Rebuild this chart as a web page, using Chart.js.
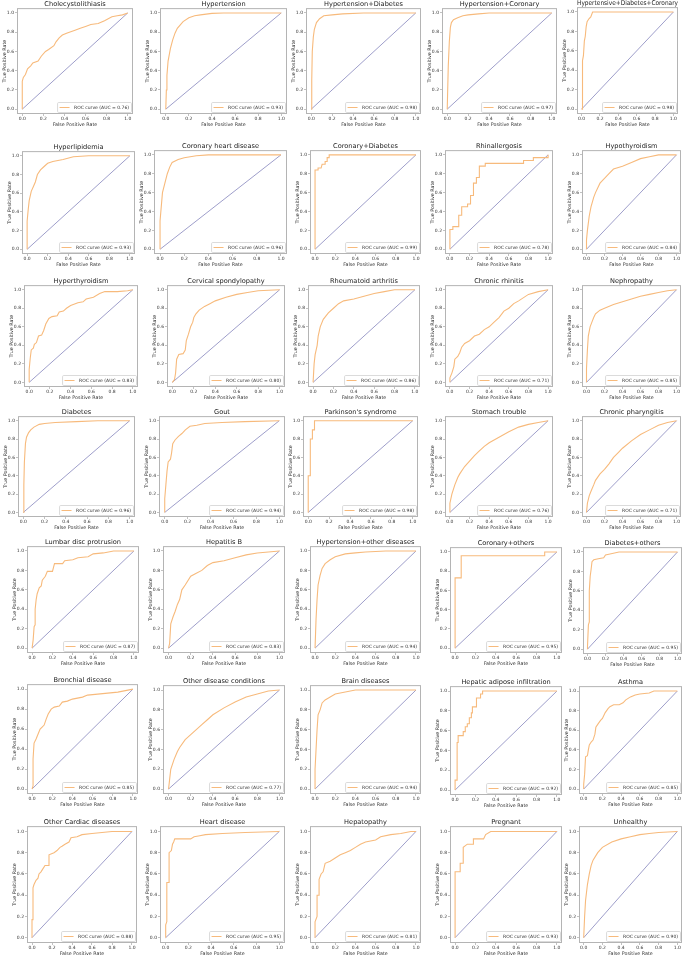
<!DOCTYPE html>
<html>
<head>
<meta charset="utf-8">
<script src="https://cdn.jsdelivr.net/npm/chart.js@4/dist/chart.umd.min.js"></script>
<style>
html, body { margin: 0; padding: 0; background: #ffffff; }
#fig { position: relative; width: 685px; height: 955px; overflow: hidden; background: #ffffff; }
#fig canvas { position: absolute; }
</style>
</head>
<body>
<div id="fig"></div>
<script>
// ---------------- DATA ----------------
const panelTitles = [
  'Cholecystolithiasis', 'Hypertension', 'Hypertension+Diabetes', 'Hypertension+Coronary', 'Hypertensive+Diabetes+Coronary',
  'Hyperlipidemia', 'Coronary heart disease', 'Coronary+Diabetes', 'Rhinallergosis', 'Hypothyroidism',
  'Hyperthyroidism', 'Cervical spondylopathy', 'Rheumatoid arthritis', 'Chronic rhinitis', 'Nephropathy',
  'Diabetes', 'Gout', "Parkinson's syndrome", 'Stomach trouble', 'Chronic pharyngitis',
  'Lumbar disc protrusion', 'Hepatitis B', 'Hypertension+other diseases', 'Coronary+others', 'Diabetes+others',
  'Bronchial disease', 'Other disease conditions', 'Brain diseases', 'Hepatic adipose infiltration', 'Asthma',
  'Other Cardiac diseases', 'Heart disease', 'Hepatopathy', 'Pregnant', 'Unhealthy'
];
const aucValues = [
  '0.76', '0.93', '0.98', '0.97', '0.98',
  '0.93', '0.96', '0.99', '0.78', '0.84',
  '0.83', '0.80', '0.86', '0.71', '0.85',
  '0.96', '0.94', '0.98', '0.76', '0.71',
  '0.87', '0.83', '0.94', '0.95', '0.95',
  '0.85', '0.77', '0.94', '0.92', '0.85',
  '0.88', '0.95', '0.81', '0.93', '0.90'
];
const tickValues = [0, 0.2, 0.4, 0.6, 0.8, 1.0];
const chanceFPR = [0, 1];
const chanceTPR = [0, 1];

const cholecystolithiasisFPR = [0, 0, 0.01, 0.03, 0.05, 0.08, 0.10, 0.15, 0.18, 0.22, 0.25, 0.30, 0.32, 0.35, 0.38, 0.42, 0.50, 0.55, 0.60, 0.65, 0.72, 0.78, 0.85, 0.90, 0.95, 1];
const cholecystolithiasisTPR = [0, 0.29, 0.33, 0.36, 0.42, 0.45, 0.48, 0.50, 0.55, 0.60, 0.62, 0.66, 0.70, 0.74, 0.77, 0.79, 0.82, 0.84, 0.86, 0.88, 0.89, 0.92, 0.96, 0.97, 0.98, 1];
const hypertensionFPR = [0, 0.005, 0.01, 0.02, 0.04, 0.06, 0.08, 0.10, 0.15, 0.20, 0.25, 0.30, 0.40, 0.50, 1];
const hypertensionTPR = [0, 0.20, 0.35, 0.50, 0.63, 0.72, 0.79, 0.84, 0.91, 0.95, 0.97, 0.98, 0.995, 1, 1];
const hypertensionDiabetesFPR = [0, 0.005, 0.01, 0.02, 0.03, 0.05, 0.08, 0.12, 0.20, 0.30, 0.50, 1];
const hypertensionDiabetesTPR = [0, 0.30, 0.60, 0.75, 0.83, 0.90, 0.94, 0.97, 0.98, 0.99, 1, 1];
const hypertensionCoronaryFPR = [0, 0.01, 0.02, 0.03, 0.04, 0.06, 0.10, 0.15, 0.20, 0.30, 0.40, 1];
const hypertensionCoronaryTPR = [0, 0.45, 0.70, 0.85, 0.90, 0.93, 0.95, 0.97, 0.98, 0.99, 1, 1];
const hypDiabCoronaryFPR = [0, 0.01, 0.01, 0.02, 0.03, 0.04, 0.05, 0.06, 0.08, 0.10, 0.12, 1];
const hypDiabCoronaryTPR = [0, 0, 0.50, 0.55, 0.70, 0.75, 0.85, 0.90, 0.93, 0.95, 1, 1];

const hyperlipidemiaFPR = [0, 0, 0.01, 0.02, 0.04, 0.06, 0.08, 0.10, 0.13, 0.16, 0.20, 0.25, 0.35, 0.45, 0.60, 1];
const hyperlipidemiaTPR = [0, 0.30, 0.42, 0.52, 0.62, 0.67, 0.72, 0.80, 0.85, 0.88, 0.92, 0.94, 0.96, 0.99, 1, 1];
const coronaryHeartFPR = [0, 0, 0.02, 0.04, 0.06, 0.08, 0.10, 0.15, 0.20, 0.30, 0.40, 1];
const coronaryHeartTPR = [0, 0.30, 0.60, 0.70, 0.80, 0.87, 0.92, 0.95, 0.97, 0.99, 1, 1];
const coronaryDiabetesFPR = [0, 0, 0.03, 0.03, 0.06, 0.07, 0.10, 0.10, 0.12, 0.12, 0.14, 0.14, 1];
const coronaryDiabetesTPR = [0, 0.84, 0.84, 0.86, 0.86, 0.90, 0.90, 0.93, 0.93, 0.97, 0.97, 1, 1];
const rhinallergosisFPR = [0, 0, 0.03, 0.03, 0.09, 0.09, 0.12, 0.12, 0.18, 0.18, 0.21, 0.21, 0.24, 0.24, 0.27, 0.27, 0.30, 0.30, 0.36, 0.36, 0.75, 0.75, 0.85, 0.85, 1, 1];
const rhinallergosisTPR = [0, 0.21, 0.21, 0.24, 0.24, 0.36, 0.36, 0.45, 0.45, 0.48, 0.48, 0.57, 0.57, 0.70, 0.70, 0.76, 0.76, 0.88, 0.88, 0.91, 0.91, 0.94, 0.94, 0.97, 0.97, 1];
const hypothyroidismFPR = [0, 0, 0.01, 0.03, 0.05, 0.08, 0.10, 0.15, 0.20, 0.25, 0.30, 0.40, 0.50, 0.60, 0.70, 0.80, 1];
const hypothyroidismTPR = [0, 0.10, 0.20, 0.35, 0.45, 0.55, 0.60, 0.70, 0.75, 0.80, 0.85, 0.88, 0.92, 0.96, 0.98, 1, 1];

const hyperthyroidismFPR = [0, 0, 0.01, 0.02, 0.04, 0.05, 0.07, 0.09, 0.12, 0.14, 0.16, 0.19, 0.22, 0.27, 0.29, 0.33, 0.36, 0.40, 0.47, 0.52, 0.55, 0.62, 0.68, 0.73, 0.85, 0.95, 1];
const hyperthyroidismTPR = [0, 0.14, 0.26, 0.35, 0.37, 0.41, 0.43, 0.50, 0.51, 0.56, 0.63, 0.69, 0.71, 0.72, 0.76, 0.77, 0.80, 0.83, 0.86, 0.87, 0.90, 0.92, 0.96, 0.98, 0.98, 0.99, 1];
const cervicalFPR = [0, 0.02, 0.03, 0.04, 0.06, 0.10, 0.12, 0.13, 0.15, 0.17, 0.19, 0.20, 0.22, 0.25, 0.30, 0.35, 0.40, 0.50, 0.60, 0.70, 0.80, 1];
const cervicalTPR = [0, 0.03, 0.10, 0.25, 0.30, 0.31, 0.35, 0.45, 0.52, 0.60, 0.65, 0.70, 0.74, 0.78, 0.82, 0.85, 0.88, 0.92, 0.95, 0.97, 0.99, 1];
const rheumatoidFPR = [0, 0.01, 0.02, 0.04, 0.05, 0.07, 0.10, 0.15, 0.20, 0.25, 0.30, 0.40, 0.50, 0.60, 0.70, 0.80, 1];
const rheumatoidTPR = [0, 0.20, 0.30, 0.40, 0.50, 0.60, 0.68, 0.75, 0.80, 0.85, 0.88, 0.90, 0.93, 0.96, 0.98, 1, 1];
const chronicRhinitisFPR = [0, 0, 0.02, 0.04, 0.05, 0.08, 0.10, 0.12, 0.15, 0.20, 0.25, 0.30, 0.35, 0.40, 0.45, 0.50, 0.55, 0.60, 0.65, 0.70, 0.80, 0.90, 1];
const chronicRhinitisTPR = [0, 0.05, 0.10, 0.17, 0.25, 0.28, 0.32, 0.38, 0.42, 0.45, 0.50, 0.52, 0.57, 0.60, 0.65, 0.70, 0.77, 0.80, 0.85, 0.88, 0.95, 0.98, 1];
const nephropathyFPR = [0, 0, 0.01, 0.02, 0.04, 0.06, 0.08, 0.10, 0.15, 0.20, 0.30, 0.40, 0.50, 0.60, 0.70, 0.80, 0.90, 1];
const nephropathyTPR = [0, 0.15, 0.35, 0.50, 0.60, 0.65, 0.70, 0.74, 0.78, 0.80, 0.84, 0.87, 0.90, 0.93, 0.95, 0.97, 0.99, 1];

const diabetesFPR = [0, 0.005, 0.01, 0.02, 0.03, 0.05, 0.07, 0.10, 0.15, 0.20, 0.30, 0.50, 0.70, 1];
const diabetesTPR = [0, 0.30, 0.55, 0.75, 0.82, 0.87, 0.90, 0.93, 0.96, 0.97, 0.98, 0.99, 1, 1];
const goutFPR = [0, 0, 0.01, 0.02, 0.03, 0.05, 0.06, 0.07, 0.09, 0.12, 0.15, 0.18, 0.22, 0.28, 0.35, 0.50, 0.70, 1];
const goutTPR = [0, 0.15, 0.30, 0.45, 0.55, 0.58, 0.65, 0.75, 0.79, 0.83, 0.86, 0.90, 0.94, 0.95, 0.97, 0.98, 0.99, 1];
const parkinsonsFPR = [0, 0, 0.02, 0.02, 0.04, 0.04, 0.06, 0.06, 1];
const parkinsonsTPR = [0, 0.40, 0.40, 0.80, 0.80, 0.90, 0.90, 1, 1];
const stomachFPR = [0, 0, 0.02, 0.05, 0.08, 0.10, 0.15, 0.20, 0.25, 0.30, 0.35, 0.40, 0.50, 0.60, 0.70, 0.80, 0.90, 1];
const stomachTPR = [0, 0.10, 0.20, 0.30, 0.38, 0.42, 0.50, 0.56, 0.62, 0.67, 0.72, 0.76, 0.82, 0.88, 0.93, 0.96, 0.98, 1];
const pharyngitisFPR = [0, 0.01, 0.03, 0.05, 0.08, 0.10, 0.15, 0.20, 0.25, 0.30, 0.35, 0.40, 0.50, 0.60, 0.70, 0.80, 0.90, 1];
const pharyngitisTPR = [0, 0.10, 0.18, 0.23, 0.30, 0.35, 0.42, 0.47, 0.53, 0.60, 0.65, 0.70, 0.78, 0.85, 0.90, 0.95, 0.98, 1];

const lumbarFPR = [0, 0.01, 0.02, 0.03, 0.03, 0.04, 0.05, 0.07, 0.09, 0.10, 0.13, 0.15, 0.20, 0.22, 0.30, 0.32, 0.40, 0.45, 0.55, 0.60, 0.70, 0.80, 1];
const lumbarTPR = [0, 0.08, 0.22, 0.24, 0.40, 0.50, 0.56, 0.62, 0.64, 0.70, 0.74, 0.79, 0.79, 0.87, 0.87, 0.90, 0.91, 0.93, 0.94, 0.97, 0.98, 1, 1];
const hepatitisBFPR = [0, 0.01, 0.02, 0.04, 0.06, 0.08, 0.10, 0.12, 0.15, 0.20, 0.25, 0.30, 0.35, 0.40, 0.50, 0.60, 0.70, 0.80, 0.90, 1];
const hepatitisBTPR = [0, 0.05, 0.25, 0.32, 0.38, 0.45, 0.50, 0.60, 0.65, 0.74, 0.77, 0.80, 0.85, 0.88, 0.90, 0.93, 0.96, 0.98, 0.99, 1];
const hypertensionOtherFPR = [0, 0.01, 0.02, 0.03, 0.05, 0.07, 0.10, 0.15, 0.20, 0.30, 0.40, 0.50, 0.70, 1];
const hypertensionOtherTPR = [0, 0.30, 0.50, 0.65, 0.75, 0.82, 0.87, 0.91, 0.94, 0.97, 0.98, 0.99, 1, 1];
const coronaryOthersFPR = [0, 0, 0.06, 0.06, 0.88, 0.88, 1];
const coronaryOthersTPR = [0, 0.73, 0.73, 0.96, 0.96, 1, 1];
const diabetesOthersFPR = [0, 0, 0.01, 0.02, 0.02, 0.03, 0.04, 0.05, 0.07, 0.12, 0.18, 0.20, 0.25, 0.35, 1];
const diabetesOthersTPR = [0, 0.03, 0.25, 0.28, 0.60, 0.75, 0.82, 0.90, 0.92, 0.93, 0.94, 0.97, 0.98, 1, 1];

const bronchialFPR = [0, 0.01, 0.01, 0.02, 0.04, 0.06, 0.08, 0.10, 0.12, 0.14, 0.16, 0.19, 0.22, 0.27, 0.30, 0.35, 0.40, 0.50, 0.55, 0.65, 0.75, 0.85, 0.95, 1];
const bronchialTPR = [0, 0.03, 0.30, 0.46, 0.50, 0.55, 0.60, 0.62, 0.64, 0.70, 0.75, 0.80, 0.82, 0.83, 0.87, 0.88, 0.90, 0.92, 0.94, 0.95, 0.96, 0.97, 0.99, 1];
const otherConditionsFPR = [0, 0.01, 0.02, 0.05, 0.08, 0.10, 0.15, 0.20, 0.25, 0.30, 0.35, 0.40, 0.50, 0.60, 0.70, 0.80, 0.90, 1];
const otherConditionsTPR = [0, 0.10, 0.20, 0.30, 0.38, 0.42, 0.50, 0.55, 0.60, 0.65, 0.70, 0.75, 0.82, 0.88, 0.93, 0.96, 0.99, 1];
const brainFPR = [0, 0, 0.01, 0.02, 0.03, 0.05, 0.07, 0.10, 0.15, 0.20, 0.30, 0.40, 1];
const brainTPR = [0, 0.20, 0.40, 0.60, 0.75, 0.80, 0.87, 0.90, 0.93, 0.96, 0.98, 1, 1];
const hepaticAdiposeFPR = [0, 0, 0.02, 0.02, 0.03, 0.03, 0.08, 0.08, 0.10, 0.10, 0.12, 0.12, 0.14, 0.14, 0.16, 0.16, 0.17, 0.17, 0.21, 0.21, 0.25, 0.25, 0.27, 0.27, 1];
const hepaticAdiposeTPR = [0, 0.10, 0.10, 0.48, 0.48, 0.55, 0.55, 0.59, 0.59, 0.64, 0.64, 0.67, 0.67, 0.73, 0.73, 0.78, 0.78, 0.84, 0.84, 0.93, 0.93, 0.97, 0.97, 1, 1];
const asthmaFPR = [0, 0, 0.01, 0.02, 0.04, 0.05, 0.06, 0.08, 0.10, 0.12, 0.13, 0.15, 0.18, 0.20, 0.23, 0.26, 0.28, 0.32, 0.38, 0.42, 0.45, 0.50, 0.55, 0.60, 0.70, 0.75, 1];
const asthmaTPR = [0, 0.05, 0.15, 0.33, 0.34, 0.40, 0.45, 0.48, 0.50, 0.56, 0.63, 0.66, 0.70, 0.72, 0.78, 0.82, 0.84, 0.86, 0.86, 0.88, 0.91, 0.94, 0.96, 0.97, 0.98, 1, 1];

const otherCardiacFPR = [0, 0, 0.01, 0.01, 0.02, 0.04, 0.06, 0.07, 0.09, 0.11, 0.13, 0.17, 0.17, 0.22, 0.25, 0.28, 0.30, 0.33, 0.37, 0.39, 0.45, 0.50, 0.60, 0.70, 0.80, 1];
const otherCardiacTPR = [0, 0.17, 0.17, 0.47, 0.50, 0.54, 0.56, 0.60, 0.62, 0.65, 0.68, 0.68, 0.78, 0.80, 0.82, 0.85, 0.86, 0.88, 0.90, 0.94, 0.95, 0.97, 0.98, 0.99, 1, 1];
const heartDiseaseFPR = [0, 0, 0.01, 0.01, 0.03, 0.03, 0.05, 0.06, 0.07, 0.08, 0.22, 0.25, 0.30, 0.35, 0.50, 0.70, 1];
const heartDiseaseTPR = [0, 0.12, 0.15, 0.52, 0.52, 0.80, 0.82, 0.88, 0.90, 0.93, 0.93, 0.95, 0.96, 0.97, 0.98, 0.99, 1];
const hepatopathyFPR = [0, 0, 0.02, 0.02, 0.04, 0.04, 0.06, 0.08, 0.10, 0.15, 0.20, 0.25, 0.30, 0.35, 0.40, 0.45, 0.50, 0.60, 0.65, 0.75, 0.85, 0.95, 1];
const hepatopathyTPR = [0, 0.15, 0.20, 0.40, 0.40, 0.55, 0.60, 0.62, 0.70, 0.72, 0.75, 0.78, 0.80, 0.82, 0.85, 0.88, 0.90, 0.92, 0.95, 0.97, 0.98, 1, 1];
const pregnantFPR = [0, 0, 0.05, 0.05, 0.08, 0.08, 0.12, 0.18, 0.18, 0.28, 0.30, 0.35, 1];
const pregnantTPR = [0, 0.62, 0.62, 0.70, 0.70, 0.85, 0.88, 0.88, 0.93, 0.93, 0.97, 1, 1];
const unhealthyFPR = [0, 0.01, 0.02, 0.04, 0.06, 0.08, 0.10, 0.15, 0.20, 0.30, 0.40, 0.50, 0.60, 0.70, 0.80, 1];
const unhealthyTPR = [0, 0.20, 0.35, 0.50, 0.60, 0.68, 0.73, 0.80, 0.85, 0.90, 0.93, 0.95, 0.97, 0.98, 0.99, 1];

const curveFPR = [
  cholecystolithiasisFPR, hypertensionFPR, hypertensionDiabetesFPR, hypertensionCoronaryFPR, hypDiabCoronaryFPR,
  hyperlipidemiaFPR, coronaryHeartFPR, coronaryDiabetesFPR, rhinallergosisFPR, hypothyroidismFPR,
  hyperthyroidismFPR, cervicalFPR, rheumatoidFPR, chronicRhinitisFPR, nephropathyFPR,
  diabetesFPR, goutFPR, parkinsonsFPR, stomachFPR, pharyngitisFPR,
  lumbarFPR, hepatitisBFPR, hypertensionOtherFPR, coronaryOthersFPR, diabetesOthersFPR,
  bronchialFPR, otherConditionsFPR, brainFPR, hepaticAdiposeFPR, asthmaFPR,
  otherCardiacFPR, heartDiseaseFPR, hepatopathyFPR, pregnantFPR, unhealthyFPR
];
const curveTPR = [
  cholecystolithiasisTPR, hypertensionTPR, hypertensionDiabetesTPR, hypertensionCoronaryTPR, hypDiabCoronaryTPR,
  hyperlipidemiaTPR, coronaryHeartTPR, coronaryDiabetesTPR, rhinallergosisTPR, hypothyroidismTPR,
  hyperthyroidismTPR, cervicalTPR, rheumatoidTPR, chronicRhinitisTPR, nephropathyTPR,
  diabetesTPR, goutTPR, parkinsonsTPR, stomachTPR, pharyngitisTPR,
  lumbarTPR, hepatitisBTPR, hypertensionOtherTPR, coronaryOthersTPR, diabetesOthersTPR,
  bronchialTPR, otherConditionsTPR, brainTPR, hepaticAdiposeTPR, asthmaTPR,
  otherCardiacTPR, heartDiseaseTPR, hepatopathyTPR, pregnantTPR, unhealthyTPR
];

// ---------------- LAYOUT (axes frame boxes: left, top, width, height in px) ----------------
const panelBoxes = [
  [17, 8, 116, 106], [160, 8, 127, 106], [306, 8, 115, 106], [442, 8, 115, 106], [577, 7, 101, 107],
  [22, 151, 113, 103], [154, 150, 133, 104], [310, 150, 111, 104], [445, 150, 108, 104], [582, 150, 99, 104],
  [24, 285, 114, 102], [167, 285, 118, 102], [308, 285, 112, 102], [445, 285, 108, 102], [582, 285, 99, 102],
  [18, 416, 117, 101], [159, 416, 126, 101], [303, 416, 115, 101], [445, 416, 108, 101], [582, 416, 99, 101],
  [27, 546, 112, 107], [163, 546, 122, 107], [310, 546, 111, 107], [450, 547, 112, 106], [583, 547, 99, 107],
  [27, 684, 111, 110], [163, 685, 122, 109], [310, 685, 111, 109], [450, 686, 112, 109], [579, 686, 103, 108],
  [27, 826, 110, 117], [160, 826, 125, 117], [310, 826, 111, 117], [450, 826, 112, 117], [579, 826, 103, 117]
];

const FONT = "'DejaVu Sans', sans-serif";
const ORANGE = '#f7ba7c';
const NAVY = 'rgba(80, 80, 160, 0.7)';
const WY = 16, TITLE_BLOCK = 10, HX = 14, PADR = 4;

Chart.defaults.font.family = FONT;

const framePlugin = {
  id: 'axesFrame',
  afterDraw(chart) {
    const { ctx, chartArea: a } = chart;
    ctx.save();
    ctx.strokeStyle = '#b4b4b4';
    ctx.lineWidth = 1;
    ctx.strokeRect(a.left + 0.5, a.top + 0.5, a.right - a.left - 1, a.bottom - a.top - 1);
    ctx.restore();
  }
};

const rocLegendPlugin = {
  id: 'rocLegend',
  afterDatasetsDraw(chart) {
    const { ctx, chartArea: a } = chart;
    const ds = chart.data.datasets[0];
    ctx.save();
    ctx.font = '4.5px ' + FONT;
    const tw = ctx.measureText(ds.label).width;
    const h = 10, w = 2 + 10 + 4.5 + tw + 2.5;
    const x = a.right - 1.5 - w, y = a.bottom - 1.5 - h;
    ctx.beginPath();
    if (ctx.roundRect) ctx.roundRect(x, y, w, h, 1.2); else ctx.rect(x, y, w, h);
    ctx.fillStyle = 'rgba(255,255,255,0.85)';
    ctx.fill();
    ctx.strokeStyle = '#d2d2d2';
    ctx.lineWidth = 0.8;
    ctx.stroke();
    ctx.beginPath();
    ctx.strokeStyle = ds.borderColor;
    ctx.lineWidth = 1;
    ctx.moveTo(x + 2, y + h / 2);
    ctx.lineTo(x + 12, y + h / 2);
    ctx.stroke();
    ctx.fillStyle = '#333';
    ctx.textBaseline = 'middle';
    ctx.textAlign = 'left';
    ctx.fillText(ds.label, x + 16.5, y + h / 2 + 0.3);
    ctx.restore();
  }
};

const fig = document.getElementById('fig');

panelTitles.forEach((title, i) => {
  const [L, T, W, H] = panelBoxes[i];
  const cw = WY + W + PADR, ch = TITLE_BLOCK + H + HX;
  const cv = document.createElement('canvas');
  cv.width = cw; cv.height = ch;
  cv.style.left = (L - WY) + 'px';
  cv.style.top = (T - TITLE_BLOCK) + 'px';
  cv.style.width = cw + 'px';
  cv.style.height = ch + 'px';
  fig.appendChild(cv);

  const fpr = curveFPR[i], tpr = curveTPR[i];
  const axisCommon = (titleText, isX) => ({
    type: 'linear',
    min: -0.05,
    max: 1.05,
    afterBuildTicks: (s) => { s.ticks = tickValues.map(v => ({ value: v })); },
    afterFit: (s) => { if (isX) s.height = HX; else s.width = WY; },
    ticks: {
      font: { family: FONT, size: 4.5 },
      color: '#333',
      padding: isX ? 0.5 : 1,
      maxRotation: 0,
      autoSkip: false,
      callback: (v) => Number(v).toFixed(1)
    },
    grid: { drawOnChartArea: false, drawTicks: true, tickLength: 2, color: '#999', lineWidth: 0.6 },
    border: { display: false },
    title: {
      display: true,
      text: titleText,
      font: { family: FONT, size: 4.8 },
      color: '#333',
      padding: isX ? { top: 0, bottom: 0.8 } : { top: 0.8, bottom: 0 }
    }
  });

  new Chart(cv, {
    type: 'line',
    data: {
      datasets: [
        {
          label: 'ROC curve (AUC = ' + aucValues[i] + ')',
          data: fpr.map((x, k) => ({ x: x, y: tpr[k] })),
          borderColor: ORANGE,
          borderWidth: 1.1,
          pointRadius: 0,
          tension: 0,
          fill: false
        },
        {
          label: 'chance',
          data: chanceFPR.map((x, k) => ({ x: x, y: chanceTPR[k] })),
          borderColor: NAVY,
          borderWidth: 0.8,
          pointRadius: 0,
          tension: 0,
          fill: false
        }
      ]
    },
    options: {
      responsive: false,
      animation: false,
      devicePixelRatio: 1,
      events: [],
      layout: { padding: { left: 0, right: PADR, top: 0, bottom: 0 } },
      plugins: {
        legend: { display: false },
        tooltip: { enabled: false },
        title: {
          display: true,
          fullSize: false,
          text: title,
          color: '#222',
          font: { family: FONT, size: 6.6, weight: 'normal' },
          padding: { top: 2, bottom: 0.2 }
        }
      },
      scales: {
        x: axisCommon('False Positive Rate', true),
        y: axisCommon('True Positive Rate', false)
      }
    },
    plugins: [framePlugin, rocLegendPlugin]
  });
});
</script>
</body>
</html>
